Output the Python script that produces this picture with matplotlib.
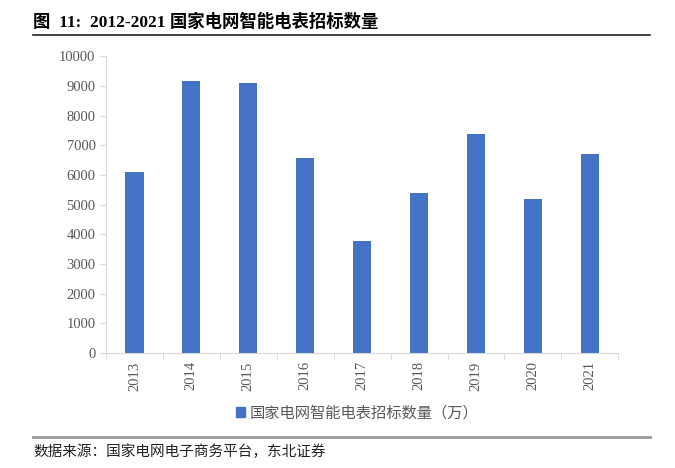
import numpy as np
import matplotlib.pyplot as plt
from matplotlib.lines import Line2D
from matplotlib.patches import Patch

years = ['2013', '2014', '2015', '2016', '2017', '2018', '2019', '2020', '2021']
counts = [6100, 9150, 9100, 6570, 3780, 5400, 7380, 5200, 6700]

cjk = ['Liberation Serif', 'Noto Sans CJK SC', 'DejaVu Sans']
plt.rcParams['font.family'] = cjk

fig = plt.figure(figsize=(6.75, 4.68), dpi=100)
ax = fig.add_axes([0.157, 0.2457, 0.759, 0.6343])

x = np.arange(len(years))
ax.bar(x, counts, width=0.32, color='#4472C4', zorder=2)

ax.set_xlim(-0.5, len(years) - 0.5)
ax.set_ylim(0, 10000)
ax.set_yticks(np.arange(0, 10001, 1000))
ax.set_xticks(x)
ax.set_xticklabels(years, rotation=90)
ax.set_xticks(np.arange(-0.5, len(years), 1), minor=True)

grey = '#d9d9d9'
for s in ['top', 'right']:
    ax.spines[s].set_visible(False)
ax.spines['left'].set_color(grey)
ax.spines['bottom'].set_color(grey)
ax.tick_params(axis='y', colors=grey, labelcolor='#595959', labelsize=10.5, length=4)
ax.tick_params(axis='x', which='major', length=0, labelcolor='#595959', labelsize=10.5, pad=6)
ax.tick_params(axis='x', which='minor', length=5, color=grey)

ax.legend(handles=[Patch(color='#4472C4', label='国家电网智能电表招标数量（万）')],
          loc='upper center', bbox_to_anchor=(0.49, -0.13), frameon=False,
          fontsize=11, handlelength=0.6, handleheight=0.6, handletextpad=0.3,
          labelcolor='#595959')

fig.text(0.049, 0.952, '图  11:  2012-2021 国家电网智能电表招标数量', fontsize=12.5,
         fontweight='bold', va='center', ha='left')
fig.add_artist(Line2D([0.049, 0.963], [0.925, 0.925], color='#222222', lw=1.2))
fig.add_artist(Line2D([0.049, 0.963], [0.066, 0.066], color='#999999', lw=2))
fig.text(0.049, 0.034, '数据来源：国家电网电子商务平台，东北证券', fontsize=10.5,
         va='center', ha='left', color='#222222')

fig.savefig('out.png', dpi=100)
